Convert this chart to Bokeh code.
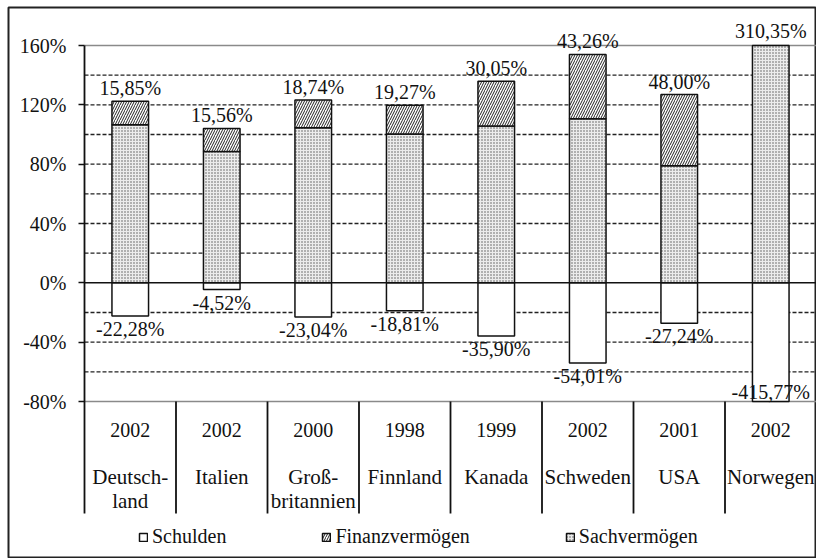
import numpy as np
from bokeh.plotting import figure
from bokeh.models import Range1d, LinearAxis, FixedTicker, ColumnDataSource, Legend, LegendItem
from bokeh.core.properties import value
from bokeh.embed import file_html
from bokeh.resources import INLINE

# ---------------- data ----------------
countries = ["Deutsch-\nland", "Italien", "Groß-\nbritannien", "Finnland",
             "Kanada", "Schweden", "USA", "Norwegen"]
years = ["2002", "2002", "2000", "1998", "1999", "2002", "2001", "2002"]
sachvermoegen = [106.5, 88.5, 104.5, 100.4, 105.8, 110.7, 78.9, 180.0]
finanzvermoegen = [15.85, 15.56, 18.74, 19.27, 30.05, 43.26, 48.00, 310.35]
schulden = [-22.28, -4.52, -23.04, -18.81, -35.90, -54.01, -27.24, -415.77]
y_ticks = [-80, -40, 0, 40, 80, 120, 160]
dashed_grid = [140, 120, 100, 80, 60, 40, 20, -20, -40, -60]
y_max, y_min = 160, -80

# ---------------- layout constants ----------------
FONT_NAME = "Liberation Serif"
FONT = value(FONT_NAME)
FS = "20px"
n = len(countries)
centers = np.arange(n) + 0.5
table_year_y = -98.9
table_name_y = -122.8
table_bottom = -155.5

sach = np.array(sachvermoegen)
fin = np.array(finanzvermoegen)
sch = np.array(schulden)

sach_top = np.minimum(sach, y_max)
fin_top = np.minimum(sach + fin, y_max)
sch_bot = np.maximum(sch, y_min)

def fmt(v):
    return f"{v:.2f}".replace(".", ",") + "%"

p = figure(width=816, height=558,
           x_range=Range1d(-76 / 91.5, n), y_range=Range1d(-185.84, 185.62),
           x_axis_location=None, y_axis_location=None,
           toolbar_location=None, output_backend="svg",
           min_border_left=8, min_border_top=7, min_border_right=0, min_border_bottom=0,
           outline_line_color="#222222", outline_line_width=2,
           background_fill_color="white", border_fill_color="white")
p.xgrid.visible = False
p.ygrid.visible = False

# grid lines
p.segment(x0=0, x1=n, y0=dashed_grid, y1=dashed_grid, line_color="#222222",
          line_width=1.3, line_dash="4 2")
p.segment(x0=0, x1=n, y0=[y_max, y_min], y1=[y_max, y_min], line_color="#8a8a8a",
          line_width=1.5)

# bars
src = ColumnDataSource(dict(x=centers, sach_top=sach_top, fin_top=fin_top, sch_bot=sch_bot))
r_sach = p.vbar(x="x", bottom=0, top="sach_top", width=0.4, source=src,
                fill_color="#ececec", line_color="#111111", line_width=1.5,
                hatch_pattern=".", hatch_scale=3, hatch_weight=1, hatch_color="#555555")
fin_mask = fin_top > sach_top
src_f = ColumnDataSource(dict(x=centers[fin_mask], b=sach_top[fin_mask], t=fin_top[fin_mask]))
r_fin = p.vbar(x="x", bottom="b", top="t", width=0.4, source=src_f,
               fill_color="white", line_color="#111111", line_width=1.5,
               hatch_pattern="/", hatch_scale=5, hatch_weight=1, hatch_color="#222222")
r_sch = p.vbar(x="x", bottom="sch_bot", top=0, width=0.4, source=src,
               fill_color="white", line_color="#111111", line_width=1.5)

# zero line
p.segment(x0=0, x1=n, y0=0, y1=0, line_color="#111111", line_width=1.5)

# y axis line and table lines
p.segment(x0=0, x1=0, y0=y_max, y1=table_bottom, line_color="#111111", line_width=1.8)
bounds = np.arange(1, n)
p.segment(x0=bounds, x1=bounds, y0=y_min, y1=table_bottom, line_color="#111111", line_width=1.8)

yax = LinearAxis(fixed_location=0, ticker=FixedTicker(ticks=y_ticks),
                 major_label_overrides={t: f"{t}%" for t in y_ticks})
yax.axis_line_color = None
yax.major_tick_out = 6
yax.major_tick_in = 0
yax.major_tick_line_width = 1.5
yax.major_tick_line_color = "#111111"
yax.minor_tick_out = 0
yax.major_label_text_font = FONT_NAME
yax.major_label_text_font_size = FS
yax.major_label_text_color = "#111111"
yax.major_label_standoff = 12
p.add_layout(yax, "left")

# value labels
clip_top = (sach + fin) > y_max
top_off = np.where(clip_top, -4, -2)
p.text(x=centers, y=fin_top, text=[fmt(v) for v in fin], y_offset=top_off,
       text_font=FONT, text_font_size=FS, text_align="center", text_baseline="bottom",
       text_color="#111111")
clip_bot = sch < y_min
src_b1 = dict(x=centers[~clip_bot], y=sch_bot[~clip_bot], t=[fmt(v) for v in sch[~clip_bot]])
p.text(x="x", y="y", text="t", source=ColumnDataSource(src_b1), y_offset=2,
       text_font=FONT, text_font_size=FS, text_align="center", text_baseline="top",
       text_color="#111111")
src_b2 = dict(x=centers[clip_bot], y=sch_bot[clip_bot], t=[fmt(v) for v in sch[clip_bot]])
p.text(x="x", y="y", text="t", source=ColumnDataSource(src_b2), y_offset=1,
       text_font=FONT, text_font_size=FS, text_align="center", text_baseline="bottom",
       text_color="#111111")

# table texts
p.text(x=centers, y=table_year_y, text=years, text_font=FONT, text_font_size=FS,
       text_align="center", text_baseline="middle", text_color="#111111")
p.text(x=centers, y=table_name_y, text=countries, text_font=FONT, text_font_size="21px",
       text_align="center", text_baseline="top", text_line_height=1.0,
       text_color="#111111")

legend = Legend(items=[LegendItem(label="Schulden", renderers=[r_sch]),
                       LegendItem(label="Finanzvermögen", renderers=[r_fin]),
                       LegendItem(label="Sachvermögen", renderers=[r_sach])],
                orientation="horizontal", location=(130, 10),
                glyph_width=10, glyph_height=10, label_standoff=4, spacing=95,
                padding=0, margin=0, border_line_color=None, background_fill_alpha=0,
                label_text_font=FONT_NAME, label_text_font_size=FS,
                label_text_color="#111111")
p.add_layout(legend)

open("out.html", "w").write(file_html(p, INLINE))
